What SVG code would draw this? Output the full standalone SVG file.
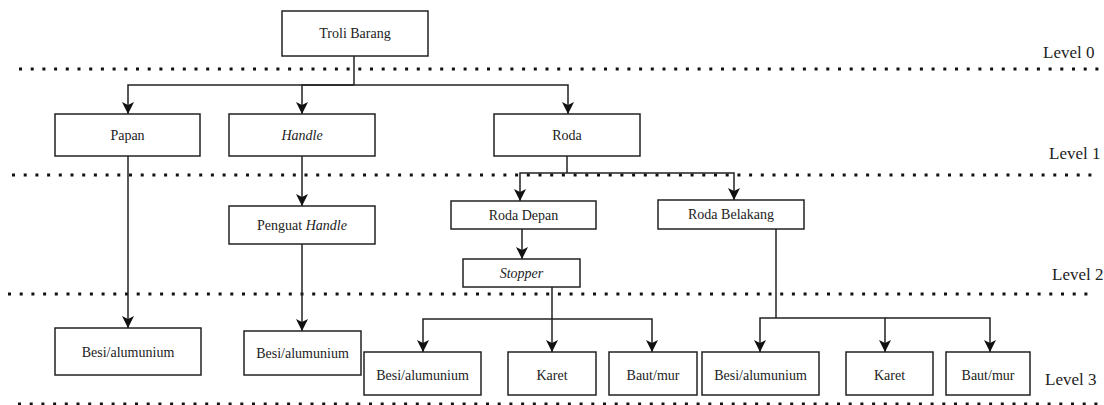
<svg xmlns="http://www.w3.org/2000/svg" width="1104" height="405" viewBox="0 0 1104 405">
<style>
.box{fill:#fff;stroke:#222;stroke-width:1.5}
.t{font-family:"Liberation Serif","Times New Roman",serif;font-size:14px;fill:#222;text-anchor:middle}
.lv{font-family:"Liberation Serif","Times New Roman",serif;font-size:17px;fill:#222}
.dot{stroke:#111;stroke-width:3;stroke-dasharray:3 8.7;fill:none}
.c{stroke:#222;stroke-width:1.5;fill:none;marker-end:url(#ah)}
.cn{stroke:#222;stroke-width:1.5;fill:none}
</style>
<defs>
<marker id="ah" markerUnits="userSpaceOnUse" markerWidth="12" markerHeight="12" viewBox="0 0 12 12" refX="12" refY="6" orient="auto">
<path d="M0,0 L12,6 L0,12 L3,6 z" fill="#111"/>
</marker>
</defs>
<g id="level-lines">
<line class="dot" x1="19" y1="69" x2="1100" y2="69"/>
<line class="dot" x1="12" y1="175" x2="1096" y2="175"/>
<line class="dot" x1="8" y1="294" x2="1092" y2="294"/>
<line class="dot" x1="18" y1="404" x2="1100" y2="404"/>
<text class="lv" x="1043" y="58">Level 0</text>
<text class="lv" x="1049" y="159">Level 1</text>
<text class="lv" x="1052" y="280">Level 2</text>
<text class="lv" x="1045" y="385">Level 3</text>
</g>
<g id="connectors">
<path class="cn" d="M354,56 V85"/>
<path class="c" d="M354,85 H128 V114"/>
<path class="c" d="M354,85 H302 V114"/>
<path class="c" d="M354,85 H568 V114"/>
<path class="cn" d="M567,156 V173"/>
<path class="c" d="M567,173 H520 V201"/>
<path class="c" d="M567,173 H734 V200"/>
<path class="c" d="M302,156 V206"/>
<path class="c" d="M522,229 V259"/>
<path class="c" d="M128,156 V328"/>
<path class="c" d="M302,244 V331"/>
<path class="c" d="M552,287 V352"/>
<path class="c" d="M552,319 H423 V352"/>
<path class="c" d="M552,319 H652 V352"/>
<path class="cn" d="M776,229 V318"/>
<path class="c" d="M776,318 H760 V352"/>
<path class="c" d="M776,318 H885 V352"/>
<path class="c" d="M885,318 H990 V352"/>
</g>
<g id="troli-barang"><rect class="box" x="282" y="11" width="146" height="45"/><text class="t" x="355" y="38">Troli Barang</text></g>
<g id="papan"><rect class="box" x="55" y="114" width="145" height="42"/><text class="t" x="127.5" y="140">Papan</text></g>
<g id="handle"><rect class="box" x="229" y="114" width="146" height="42"/><text class="t" x="302" y="140" font-style="italic">Handle</text></g>
<g id="roda"><rect class="box" x="494" y="114" width="146" height="42"/><text class="t" x="567" y="140">Roda</text></g>
<g id="roda-depan"><rect class="box" x="451" y="201" width="145" height="28"/><text class="t" x="523.5" y="220">Roda Depan</text></g>
<g id="roda-belakang"><rect class="box" x="658" y="200" width="146" height="29"/><text class="t" x="731" y="219">Roda Belakang</text></g>
<g id="penguat-handle"><rect class="box" x="229" y="206" width="146" height="38"/><text class="t" x="302" y="230">Penguat <tspan font-style="italic">Handle</tspan></text></g>
<g id="stopper"><rect class="box" x="463" y="259" width="117" height="28"/><text class="t" x="521.5" y="278" font-style="italic">Stopper</text></g>
<g id="besi-1"><rect class="box" x="55" y="328" width="146" height="47"/><text class="t" x="128" y="357">Besi/alumunium</text></g>
<g id="besi-2"><rect class="box" x="244" y="331" width="117" height="44"/><text class="t" x="302.5" y="358">Besi/alumunium</text></g>
<g id="besi-3"><rect class="box" x="364" y="352" width="117" height="43"/><text class="t" x="422.5" y="380">Besi/alumunium</text></g>
<g id="karet-1"><rect class="box" x="508" y="352" width="88" height="43"/><text class="t" x="552" y="380">Karet</text></g>
<g id="baut-1"><rect class="box" x="609" y="352" width="88" height="43"/><text class="t" x="653" y="380">Baut/mur</text></g>
<g id="besi-4"><rect class="box" x="702" y="352" width="117" height="43"/><text class="t" x="760.5" y="380">Besi/alumunium</text></g>
<g id="karet-2"><rect class="box" x="846" y="352" width="87" height="43"/><text class="t" x="889.5" y="380">Karet</text></g>
<g id="baut-2"><rect class="box" x="946" y="352" width="84" height="43"/><text class="t" x="988" y="380">Baut/mur</text></g>
</svg>
